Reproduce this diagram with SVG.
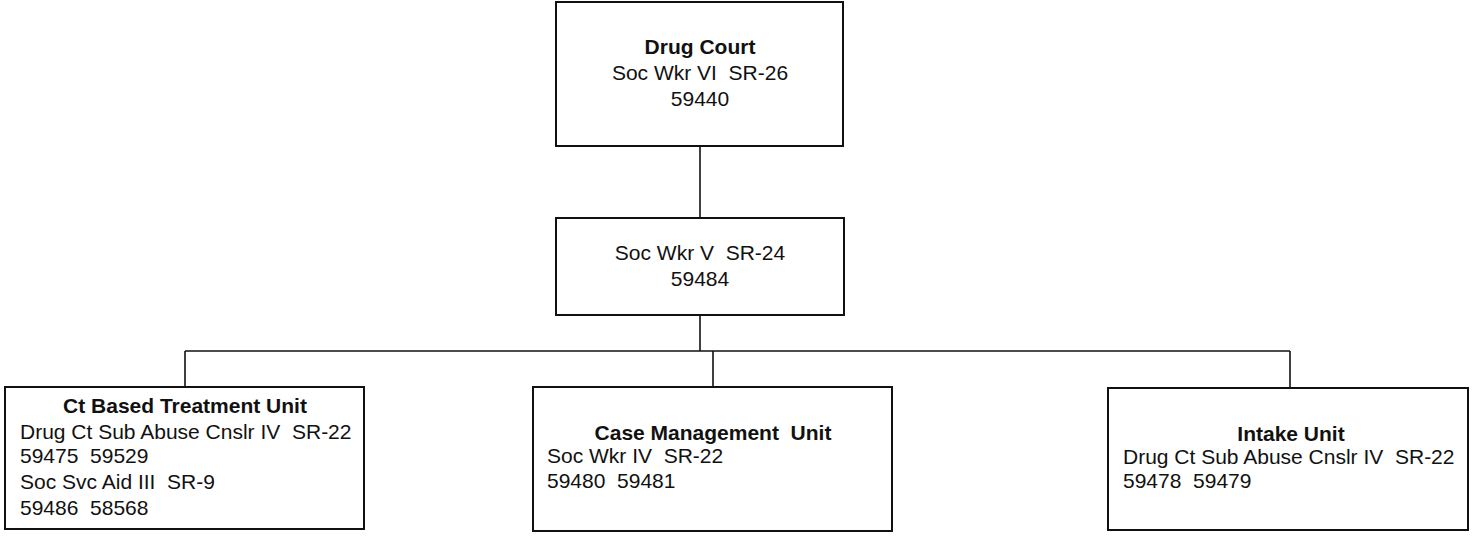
<svg xmlns="http://www.w3.org/2000/svg" width="1479" height="540" viewBox="0 0 1479 540">
<style>
.box{fill:#fff;stroke:#111;stroke-width:2}
.ln{fill:none;stroke:#111;stroke-width:1.6}
text{font-family:"Liberation Sans",Arial,sans-serif;font-size:21px;fill:#111}
.b{font-weight:bold}
.c{text-anchor:middle}
</style>
<rect width="1479" height="540" fill="#fff"/>
<g id="connectors">
<line class="ln" x1="700" y1="146" x2="700" y2="218"/>
<line class="ln" x1="700" y1="315" x2="700" y2="351"/>
<line class="ln" x1="185" y1="351" x2="1290" y2="351"/>
<line class="ln" x1="185" y1="351" x2="185" y2="387"/>
<line class="ln" x1="713" y1="351" x2="713" y2="387"/>
<line class="ln" x1="1290" y1="351" x2="1290" y2="388"/>
</g>
<g id="drug-court">
<rect class="box" x="556" y="2" width="287" height="144"/>
<text class="b c" x="700" y="54">Drug Court</text>
<text class="c" x="700" y="80" xml:space="preserve">Soc Wkr VI  SR-26</text>
<text class="c" x="700" y="106">59440</text>
</g>
<g id="soc-wkr-v">
<rect class="box" x="556" y="218" width="288" height="97"/>
<text class="c" x="700" y="260" xml:space="preserve">Soc Wkr V  SR-24</text>
<text class="c" x="700" y="286">59484</text>
</g>
<g id="ct-based-treatment">
<rect class="box" x="5" y="387" width="359" height="142"/>
<text class="b c" x="185" y="413">Ct Based Treatment Unit</text>
<text x="20" y="439" xml:space="preserve">Drug Ct Sub Abuse Cnslr IV  SR-22</text>
<text x="20" y="463" xml:space="preserve">59475  59529</text>
<text x="20" y="489" xml:space="preserve">Soc Svc Aid III  SR-9</text>
<text x="20" y="515" xml:space="preserve">59486  58568</text>
</g>
<g id="case-management">
<rect class="box" x="533" y="387" width="359" height="144"/>
<text class="b c" x="713" y="440" xml:space="preserve">Case Management  Unit</text>
<text x="547" y="463" xml:space="preserve">Soc Wkr IV  SR-22</text>
<text x="547" y="488" xml:space="preserve">59480  59481</text>
</g>
<g id="intake">
<rect class="box" x="1108" y="388" width="360" height="142"/>
<text class="b c" x="1291" y="441">Intake Unit</text>
<text x="1123" y="464" xml:space="preserve">Drug Ct Sub Abuse Cnslr IV  SR-22</text>
<text x="1123" y="488" xml:space="preserve">59478  59479</text>
</g>
</svg>
